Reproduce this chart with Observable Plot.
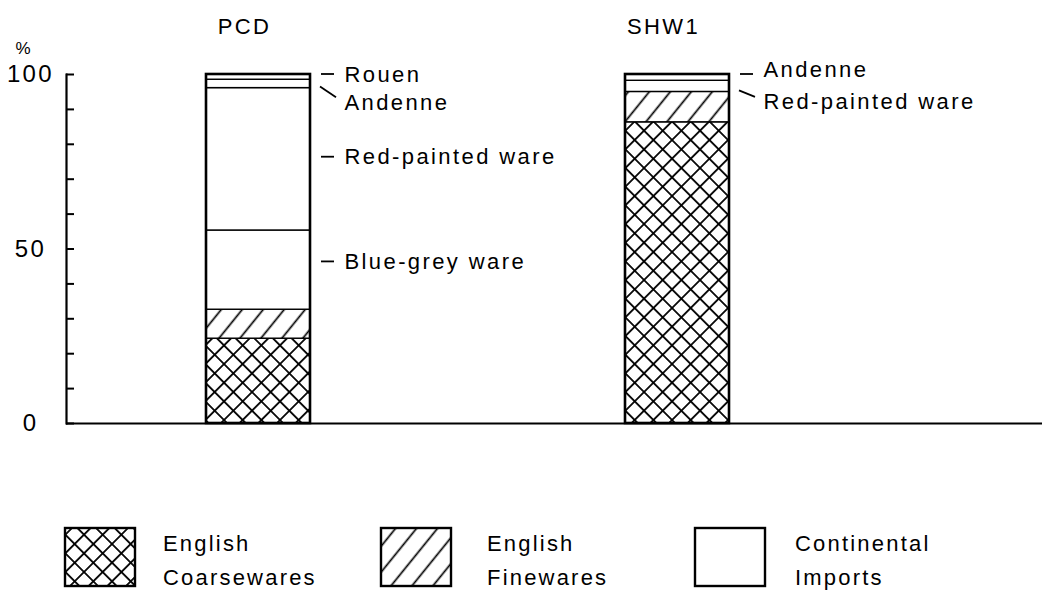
<!DOCTYPE html>
<html><head><meta charset="utf-8">
<script src="https://cdn.jsdelivr.net/npm/d3@7"></script>
<script src="https://cdn.jsdelivr.net/npm/@observablehq/plot@0.6"></script>
<style>
body{margin:0;background:#fff;font-family:"Liberation Sans",Arial,sans-serif;}
#wrap{position:relative;width:1042px;height:590px;overflow:hidden;}
#legend{position:absolute;left:0;top:460px;}
</style></head><body>
<svg width="0" height="0" style="position:absolute">
  <defs>
    <pattern id="cross" patternUnits="userSpaceOnUse" width="13.2" height="13.2" patternTransform="rotate(45)">
      <rect width="13.2" height="13.2" fill="white"/>
      <line x1="6.6" y1="-1" x2="6.6" y2="14.2" stroke="black" stroke-width="1.8"/>
      <line x1="-1" y1="6.6" x2="14.2" y2="6.6" stroke="black" stroke-width="1.8"/>
    </pattern>
    <pattern id="hatch" patternUnits="userSpaceOnUse" width="16.3" height="10" patternTransform="rotate(39)">
      <rect width="16.3" height="10" fill="white"/>
      <line x1="8.15" y1="-1" x2="8.15" y2="11" stroke="black" stroke-width="1.7"/>
    </pattern>
  </defs>
</svg>
<div id="wrap"><div id="chart"></div><div id="legend"></div></div>
<script>
// ---- data ----
const sites = ["PCD", "SHW1"];
const pcdWares = ["English Coarsewares", "English Finewares", "Blue-grey ware", "Red-painted ware", "Andenne", "Rouen"];
const pcdValues = [24.3, 8.3, 22.7, 40.8, 2.4, 1.5];
const shwWares = ["English Coarsewares", "English Finewares", "Red-painted ware", "Andenne"];
const shwValues = [86.3, 8.7, 3.2, 1.8];
const groupNames = ["English Coarsewares", "English Finewares", "Continental Imports"];
const groupLines = [["English", "Coarsewares"], ["English", "Finewares"], ["Continental", "Imports"]];
const yTicks = [0, 10, 20, 30, 40, 50, 60, 70, 80, 90, 100];
const yTickLabels = [0, 50, 100];
// annotations (label position in %)
const pcdNotes = ["Blue-grey ware", "Red-painted ware", "Andenne", "Rouen"];
const pcdNoteY = [46.3, 76.3, 91.9, 100];
const pcdNoteSlant = [false, false, true, false];
const shwNotes = ["Red-painted ware", "Andenne"];
const shwNoteY = [92.0, 101.2];
const shwNoteSlant = [true, false];

const patternOf = w => w === "English Coarsewares" ? "url(#cross)" : w === "English Finewares" ? "url(#hatch)" : "white";

const rows = [];
function addSite(site, wares, values) {
  let base = 0;
  wares.forEach((w, i) => { rows.push({site, ware: w, value: values[i], base, fill: patternOf(w)}); base += values[i]; });
}
addSite("PCD", pcdWares, pcdValues);
addSite("SHW1", shwWares, shwValues);

const notes = [];
pcdNotes.forEach((t, i) => notes.push({site: "PCD", label: t, y: pcdNoteY[i], slant: pcdNoteSlant[i]}));
shwNotes.forEach((t, i) => notes.push({site: "SHW1", label: t, y: shwNoteY[i], slant: shwNoteSlant[i]}));

const FONT = "'Liberation Sans', Arial, Helvetica, sans-serif";
const W = 1042, ML = 66;

const plot = Plot.plot({
  width: W, height: 460,
  marginLeft: ML, marginRight: 0, marginTop: 74, marginBottom: 37,
  x: {type: "band", domain: sites, range: [66, 868], paddingInner: 0.752, paddingOuter: 0.331},
  y: {domain: [0, 100]},
  color: {type: "identity"},
  style: {fontFamily: FONT, background: "white", color: "black", letterSpacing: "2.4px", overflow: "visible"},
  marks: [
    Plot.barY(rows, {x: "site", y: "value", z: "ware", fill: "fill", stroke: "black", strokeWidth: 1.4}),
    Plot.barY(rows, Plot.groupX({y: "sum"}, {x: "site", y: "value", fill: "none", stroke: "black", strokeWidth: 2.6})),
    Plot.frame({anchor: "left", strokeWidth: 2.2}),
    Plot.ruleY([0], {strokeWidth: 2.2}),
    Plot.tickY(yTicks, {y: d => d, insetRight: W - ML - 8, strokeWidth: 2}),
    Plot.axisY({ticks: yTickLabels, tickSize: 0, tickPadding: 36, textAnchor: "middle", fontSize: 24, label: null}),
    Plot.axisX({anchor: "top", tickSize: 0, tickPadding: 41, fontSize: 22, dx: -14, label: null, style: {letterSpacing: "4px"}}),
    Plot.text(["%"], {frameAnchor: "top-left", dx: -51, dy: -33, fontSize: 17}),
    Plot.text(notes, {x: "site", y: "y", text: "label", textAnchor: "start", dx: 86, fontSize: 22})
  ]
});
document.getElementById("chart").appendChild(plot);

// leader lines drawn through Plot's own scales
const xs = plot.scale("x"), ys = plot.scale("y");
const bw = xs.bandwidth;
const g = d3.select(plot).append("g").attr("stroke", "black").attr("stroke-width", 1.8);
notes.forEach(n => {
  const right = xs.apply(n.site) + bw;
  const yv = ys.apply(Math.min(n.y, 100));
  if (n.slant) {
    const seg = rows.find(r => r.site === n.site && r.ware === n.label);
    const y0 = ys.apply(seg.base);
    g.append("line").attr("x1", right + 10).attr("y1", y0 - 1).attr("x2", right + 26).attr("y2", yv - 5);
  } else {
    g.append("line").attr("x1", right + 11).attr("y1", yv).attr("x2", right + 24).attr("y2", yv);
  }
});

// legend
const lg = d3.select("#legend").append("svg").attr("width", 1042).attr("height", 130)
  .style("font-family", FONT).style("letter-spacing", "2.2px");
const boxX = [65, 381, 695], textX = [163, 487, 795];
groupNames.forEach((name, i) => {
  lg.append("rect").attr("x", boxX[i]).attr("y", 68).attr("width", 70).attr("height", 58)
    .attr("fill", patternOf(name)).attr("stroke", "black").attr("stroke-width", 2.4);
  groupLines[i].forEach((t, j) => {
    lg.append("text").attr("x", textX[i]).attr("y", 83 + j * 34).attr("dy", "0.35em")
      .attr("font-size", 22).text(t);
  });
});
</script>
</body></html>
